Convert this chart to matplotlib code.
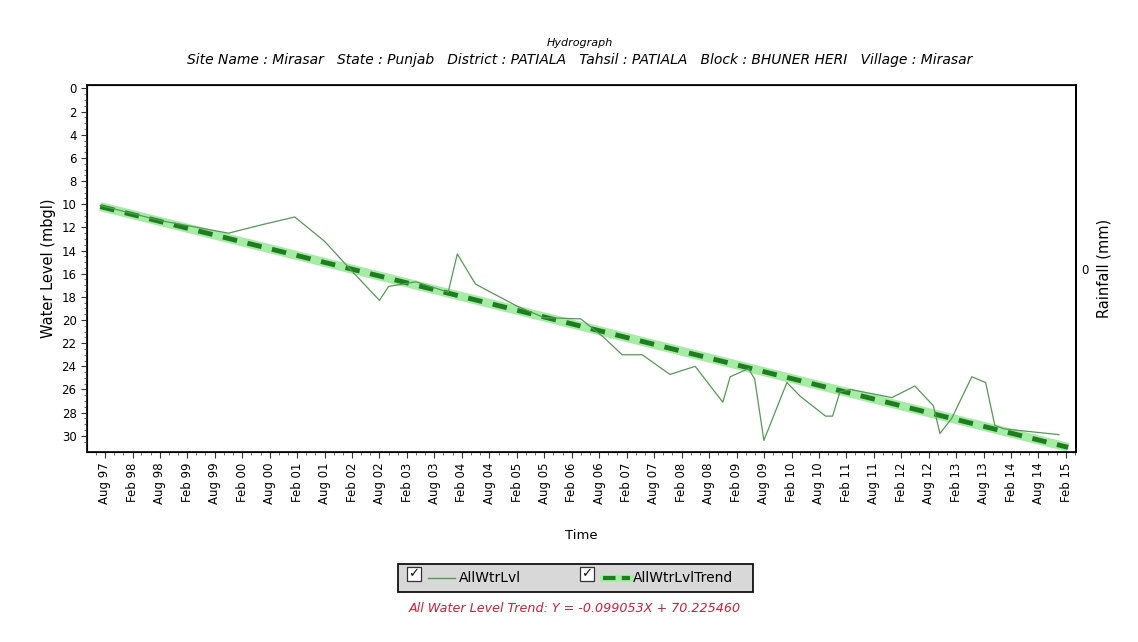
import pandas as pd
import matplotlib
matplotlib.use("Agg")
import matplotlib.pyplot as plt
import matplotlib.dates as mdates
from matplotlib.patches import Rectangle

# observed water level (mbgl)
obs_dates = ["1997-07-01", "1998-08-01", "1999-11-01", "2000-06-01", "2001-01-15",
             "2001-08-01", "2002-02-01", "2002-08-01", "2002-10-01", "2003-04-01",
             "2003-11-01", "2004-01-01", "2004-05-01", "2005-02-01", "2005-08-01",
             "2006-04-01", "2006-09-01", "2007-01-01", "2007-05-15", "2007-11-15",
             "2008-05-01", "2008-11-01", "2008-12-20", "2009-04-20", "2009-06-01",
             "2009-08-01", "2010-01-01", "2010-04-01", "2010-09-15", "2010-11-01",
             "2010-12-20", "2011-03-01", "2011-12-01", "2012-05-01", "2012-09-01",
             "2012-10-15", "2013-01-01", "2013-05-15", "2013-08-15", "2013-10-15",
             "2013-12-15", "2014-12-15"]
obs_level = [10.1, 11.4, 12.5, 11.8, 11.1,
             13.2, 15.8, 18.3, 17.1, 16.7,
             17.6, 14.3, 16.9, 18.8, 19.8,
             19.9, 21.5, 23.0, 23.0, 24.7,
             24.0, 27.1, 24.9, 24.2, 25.1,
             30.4, 25.4, 26.6, 28.3, 28.3,
             26.2, 26.0, 26.7, 25.7, 27.4,
             29.8, 28.5, 24.9, 25.4, 29.1,
             29.4, 29.9]

# trend line end points
trend_dates = ["1997-07-01", "2015-02-15"]
trend_level = [10.2, 31.0]

tick_labels = []
for yr in range(1997, 2016):
    for mon in ["Feb", "Aug"]:
        tick_labels.append(f"{mon} {str(yr)[2:]}")
tick_labels = tick_labels[1:-1]
tick_dates = pd.date_range("1997-08-01", "2015-02-01", freq="6MS")

title = "Hydrograph"
subtitle = ("Site Name : Mirasar   State : Punjab   District : PATIALA   Tahsil : PATIALA   "
            "Block : BHUNER HERI   Village : Mirasar")
trend_text = "All Water Level Trend: Y = -0.099053X + 70.225460"

plt.rcParams['font.family'] = ['DejaVu Sans']

W, H = 1138, 642
fig = plt.figure(figsize=(W / 100, H / 100), dpi=100)
fig.patch.set_facecolor("white")
ax = fig.add_axes([87 / W, 1 - 452 / H, (1076 - 87) / W, (452 - 85) / H])

x_obs = pd.to_datetime(obs_dates)
x_tr = pd.to_datetime(trend_dates)

# trend: light halo plus dark dashes
ax.plot(x_tr, trend_level, color="#a6eca6", lw=6.5, solid_capstyle="butt", zorder=2)
ax.plot(x_tr, trend_level, color="#1e7d1e", lw=3.5, ls=(0, (3, 2.2)), zorder=3)
ax.plot(x_obs, obs_level, color="#559955", lw=0.9, zorder=4)

ax.set_xlim(pd.Timestamp("1997-04-04"), pd.Timestamp("2015-04-08"))
ax.set_ylim(31.4, -0.3)
ax.set_yticks(range(0, 31, 2))
ax.set_yticks([v / 2 for v in range(0, 62)], minor=True)
ax.set_xticks(tick_dates)
ax.set_xticklabels(tick_labels, rotation=90)
ax.xaxis.set_minor_locator(mdates.MonthLocator(bymonth=[2, 4, 6, 8, 10, 12]))
ax.tick_params(axis="both", which="major", labelsize=8.5, length=4, width=0.8, color="#333333")
ax.tick_params(axis="both", which="minor", length=2, width=0.6, color="#555555")
for s in ax.spines.values():
    s.set_linewidth(1.4)
    s.set_color("#222222")
ax.set_xlabel("Time", fontsize=9.5, labelpad=18)
ax.set_ylabel("Water Level (mbgl)", fontsize=10.5, labelpad=4)

ax2 = ax.twinx()
ax2.set_ylim(-1, 1)
ax2.set_yticks([0])
ax2.tick_params(axis="y", labelsize=8.5, length=0)
ax2.set_ylabel("Rainfall (mm)", fontsize=10.5, labelpad=6, rotation=90)
ax2.spines["right"].set_linewidth(1.4)

fig.text(580 / W, 1 - 43 / H, title, ha="center", va="center", fontsize=8, style="italic")
fig.text(580 / W, 1 - 60 / H, subtitle, ha="center", va="center", fontsize=10, style="italic")

# legend box drawn by hand (checkbox style)
def px(x, y):
    return x / W, 1 - y / H

x0, y0 = px(398, 592)
fig.patches.append(Rectangle((x0, y0), (753 - 398) / W, (592 - 564) / H, transform=fig.transFigure,
                             facecolor="#d8d8d8", edgecolor="#111111", lw=1.3))
for cx in (407, 580):
    bx, by = px(cx, 581)
    fig.patches.append(Rectangle((bx, by), 14 / W, 14 / H, transform=fig.transFigure,
                                 facecolor="white", edgecolor="#333333", lw=0.9))
    fig.text((cx + 7) / W, 1 - 574 / H, "\u2713", ha="center", va="center", fontsize=9.5,
             color="#111111", fontweight="bold")
fig.lines.append(plt.Line2D([428 / W, 455 / W], [1 - 578 / H] * 2, transform=fig.transFigure,
                            color="#559955", lw=1))
fig.text(459 / W, 1 - 578 / H, "AllWtrLvl", ha="left", va="center", fontsize=10)
fig.lines.append(plt.Line2D([603 / W, 630 / W], [1 - 578 / H] * 2, transform=fig.transFigure,
                            color="#a6eca6", lw=5))
fig.lines.append(plt.Line2D([603 / W, 630 / W], [1 - 578 / H] * 2, transform=fig.transFigure,
                            color="#1e7d1e", lw=3, ls=(0, (3, 1.5))))
fig.text(633 / W, 1 - 578 / H, "AllWtrLvlTrend", ha="left", va="center", fontsize=10)

fig.text(575 / W, 1 - 608 / H, trend_text, ha="center", va="center", fontsize=9.2,
         style="italic", color="#cc2233")

fig.savefig("out.png", dpi=100)
